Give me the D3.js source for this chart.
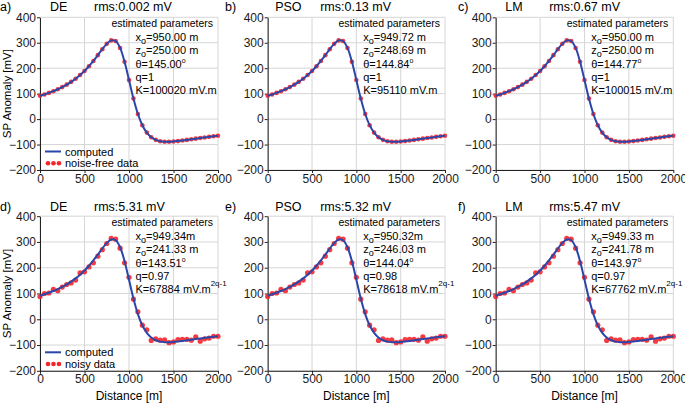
<!DOCTYPE html>
<html><head><meta charset="utf-8">
<script src="https://cdn.jsdelivr.net/npm/d3@7"></script>
<style>
body{margin:0;background:#fff}
svg{display:block;font-family:"Liberation Sans",Arial,Helvetica,sans-serif}
</style>
</head><body>
<svg id="chart" width="685" height="405"></svg>
<script>
// ---------------- data ----------------
const distance = [0,50,100,150,200,250,300,350,400,450,500,550,600,650,700,750,800,850,900,950,
  1000,1050,1100,1150,1200,1250,1300,1350,1400,1450,1500,1550,1600,1650,1700,1750,1800,1850,1900,1950,2000];

const noiseFreeData = [91.5,96.9,103.0,109.7,117.2,125.7,135.4,146.3,158.7,173.0,189.2,207.7,228.5,251.2,274.6,295.7,309.3,306.8,279.6,225.4,
  153.6,80.8,20.1,-23.9,-53.1,-71.1,-81.5,-86.8,-89.0,-89.2,-88.2,-86.4,-84.2,-81.8,-79.4,-76.9,-74.4,-72.1,-69.8,-67.6,-65.5];

const computedCurve = [91.5,96.9,103.0,109.7,117.2,125.7,135.4,146.3,158.7,173.0,189.2,207.7,228.5,251.2,274.6,295.7,309.3,306.8,279.6,225.4,
  153.6,80.8,20.1,-23.9,-53.1,-71.1,-81.5,-86.8,-89.0,-89.2,-88.2,-86.4,-84.2,-81.8,-79.4,-76.9,-74.4,-72.1,-69.8,-67.6,-65.5];

const noisyData = [88,100,102,116,111,125,135,141,152,180,184,203,219,245,270,294,314,311,276,219,
  163,78,29,-23,-41,-82,-76,-81,-80,-91,-88,-79,-78,-78,-81,-68,-85,-76,-73,-66,-66];

const xTickValues = [0,500,1000,1500,2000];
const yTickValues = [-200,-100,0,100,200,300,400];

const panelLetters = ["a)","b)","c)","d)","e)","f)"];
const methods = ["DE","PSO","LM","DE","PSO","LM"];
const rmsLabels = ["rms:0.002 mV","rms:0.13 mV","rms:0.67 mV","rms:5.31 mV","rms:5.32 mV","rms:5.47 mV"];
const x0Values = ["=950.00 m","=949.72 m","=950.00 m","=949.34m","=950.32m","=949.33 m"];
const z0Values = ["=250.00 m","=248.69 m","=250.00 m","=241.33 m","=246.03 m","=241.78 m"];
const thetaValues = ["θ=145.00","θ=144.84","θ=144.77","θ=143.51","θ=144.04","θ=143.97"];
const qValues = ["q=1","q=1","q=1","q=0.97","q=0.98","q=0.97"];
const kValues = ["K=100020 mV.m","K=95110 mV.m","K=100015 mV.m","K=67884 mV.m","K=78618 mV.m","K=67762 mV.m"];
const kExponents = ["","","","2q-1","2q-1","2q-1"];
const legendLabels = ["computed","noise-free data","noisy data"];

// ---------------- layout ----------------
const colX = [[40,218],[267.7,445],[495.7,673.3]];
const rowY = [[170,17.3],[370.8,216.2]];
const letterX = [0,225,458];
const methodOff = [10,7.5,9.5];
const rmsOff = [54,52.5,53.5];

const svg = d3.select("#chart");
const BLUE = "#2b46a8", RED = "#f5262b", GRID = "#d6d6d6";

panelLetters.forEach((letter,i)=>{
  const col = i%3, row = Math.floor(i/3);
  const x = d3.scaleLinear().domain([0,2000]).range(colX[col]);
  const y = d3.scaleLinear().domain([-200,400]).range(rowY[row]);
  const L = colX[col][0], R = colX[col][1], B = rowY[row][0], T = rowY[row][1];
  const g = svg.append("g");

  // grid
  g.selectAll(".gy").data(yTickValues).join("line")
    .attr("x1",L).attr("x2",R).attr("y1",d=>y(d)).attr("y2",d=>y(d))
    .attr("stroke",GRID).attr("stroke-width",1);
  g.selectAll(".gx").data(xTickValues).join("line")
    .attr("y1",B).attr("y2",T).attr("x1",d=>x(d)).attr("x2",d=>x(d))
    .attr("stroke",GRID).attr("stroke-width",1);

  // axes
  const ax = g.append("g").attr("transform",`translate(0,${B})`)
    .call(d3.axisBottom(x).tickValues(xTickValues).tickSize(3).tickSizeOuter(0).tickPadding(1).tickFormat(d3.format("d")));
  const ay = g.append("g").attr("transform",`translate(${L},0)`)
    .call(d3.axisLeft(y).tickValues(yTickValues).tickSize(3).tickSizeOuter(0).tickPadding(1).tickFormat(d3.format("d")));
  [ax,ay].forEach(a=>{
    a.selectAll("text").attr("font-size",12).attr("fill","#1a1a1a").attr("font-family","Liberation Sans, Arial, sans-serif");
    a.select(".domain").attr("stroke","#222");
    a.selectAll(".tick line").attr("stroke","#222");
  });

  // series
  const pts = row===0 ? noiseFreeData : noisyData;
  const line = d3.line().x((d,k)=>x(distance[k])).y(d=>y(d)).curve(d3.curveCatmullRom.alpha(0.5));
  g.selectAll(".pt").data(pts).join("circle")
    .attr("cx",(d,k)=>x(distance[k])).attr("cy",d=>y(d))
    .attr("r",row===0?2.3:2.6).attr("fill",RED).attr("fill-opacity",0.9);
  g.append("path").datum(computedCurve).attr("d",line)
    .attr("fill","none").attr("stroke",BLUE).attr("stroke-width",2);

  // titles
  const ty = row===0 ? 10.5 : 210.5;
  g.append("text").attr("x",letterX[col]).attr("y",ty).attr("font-size",12.5).text(letter);
  g.append("text").attr("x",L+methodOff[col]).attr("y",ty).attr("font-size",12.5).text(methods[i]);
  g.append("text").attr("x",L+rmsOff[col]).attr("y",ty).attr("font-size",12.5).text(rmsLabels[i]);

  // parameters
  g.append("text").attr("x",R-5).attr("y",T+9.8).attr("text-anchor","end")
    .attr("font-size",10.5).text("estimated parameters");
  const px = L+95.5;
  const t1 = g.append("text").attr("x",px).attr("y",T+23.3).attr("font-size",11);
  t1.append("tspan").text("x");
  t1.append("tspan").attr("font-size",9).attr("dy",3).text("o");
  t1.append("tspan").attr("dy",-3).text(x0Values[i]);
  const t2 = g.append("text").attr("x",px).attr("y",T+36.8).attr("font-size",11);
  t2.append("tspan").text("z");
  t2.append("tspan").attr("font-size",9).attr("dy",3).text("o");
  t2.append("tspan").attr("dy",-3).text(z0Values[i]);
  const t3 = g.append("text").attr("x",px).attr("y",T+50.3).attr("font-size",11);
  t3.append("tspan").text(thetaValues[i]);
  t3.append("tspan").attr("font-size",7).attr("dy",-5).text("o");
  g.append("text").attr("x",px).attr("y",T+63.5).attr("font-size",11).text(qValues[i]);
  const t5 = g.append("text").attr("x",px).attr("y",T+76.8).attr("font-size",11);
  t5.append("tspan").text(kValues[i]);
  if(kExponents[i]) t5.append("tspan").attr("font-size",8).attr("dy",-7).text(kExponents[i]);

  // legend (first column only)
  if(col===0){
    g.append("line").attr("x1",L+5).attr("x2",L+21).attr("y1",B-18.5).attr("y2",B-18.5)
      .attr("stroke",BLUE).attr("stroke-width",2);
    g.append("text").attr("x",L+25).attr("y",B-14.5).attr("font-size",11).text(legendLabels[0]);
    [L+8,L+13.5,L+19].forEach(cx=>g.append("circle").attr("cx",cx).attr("cy",B-6.8).attr("r",2.3).attr("fill",RED));
    g.append("text").attr("x",L+25).attr("y",B-3.2).attr("font-size",11).text(legendLabels[row===0?1:2]);
    g.append("text").attr("transform",`translate(10.5,${(B+T)/2}) rotate(-90)`)
      .attr("text-anchor","middle").attr("font-size",11.5).text("SP Anomaly [mV]");
  }
  if(row===1){
    g.append("text").attr("x",(L+R)/2).attr("y",400).attr("text-anchor","middle")
      .attr("font-size",12).text("Distance [m]");
  }
});
</script>
</body></html>
